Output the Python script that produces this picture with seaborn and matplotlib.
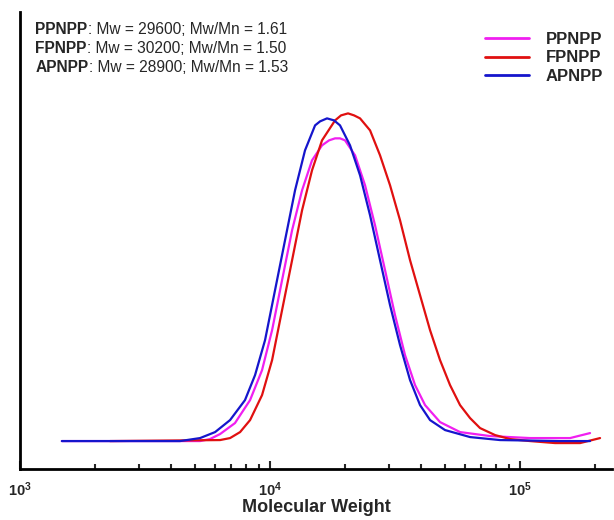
import numpy as np
import pandas as pd
import matplotlib
matplotlib.use("Agg")
import matplotlib.pyplot as plt
import seaborn as sns

# values (molecular weight, detector signal in arbitrary units)
pp_mw = [1470, 4365, 5250, 5750, 6310, 7240, 8320, 9290, 10190, 11170, 12250, 13430,
         14720, 16140, 17220, 18200, 19050, 19950, 21880, 23990, 26300, 28840, 31620,
         34670, 38020, 41690, 47860, 57540, 75860, 109600, 158500, 190500]
pp_sig = [0, 0, 0, 2, 7, 18, 41, 71, 111, 161, 211, 251,
          281, 296, 301, 303, 303, 301, 286, 256, 216, 171, 126,
          86, 56, 36, 19, 9, 5, 3, 3, 8]

fp_mw = [2290, 6310, 6920, 7590, 8320, 9290, 10190, 11170, 12250, 13430, 14720, 16140,
         18200, 19230, 20510, 21680, 22910, 25120, 27540, 30200, 33110, 36310, 39810,
         43650, 47860, 52480, 57540, 63100, 69180, 79430, 91200, 109600, 138000, 173800,
         208900]
fp_sig = [0, 1, 3, 9, 21, 46, 81, 131, 181, 231, 271, 301,
          321, 326, 328, 326, 323, 311, 286, 256, 221, 181, 146,
          111, 81, 56, 36, 23, 13, 6, 2, 0, -2, -2,
          3]

ap_mw = [1470, 4365, 5250, 6030, 6920, 7940, 8710, 9550, 10470, 11480, 12590, 13800,
         15140, 15850, 16900, 18030, 19050, 20890, 22910, 25120, 27540, 30200, 33110,
         36310, 39810, 43650, 50120, 63100, 83180, 144500, 190500]
ap_sig = [0, 0, 3, 9, 21, 41, 66, 101, 151, 201, 251, 291,
          316, 320, 323, 321, 316, 296, 266, 226, 181, 136, 96,
          61, 36, 21, 11, 4, 1, 0, 0]

names = ["PPNPP", "FPNPP", "APNPP"]
mw_text = ["Mw = 29600; Mw/Mn = 1.61", "Mw = 30200; Mw/Mn = 1.50", "Mw = 28900; Mw/Mn = 1.53"]
colors = ["#f01ff0", "#e01010", "#1515cc"]

df = pd.concat([
    pd.DataFrame({"mw": pp_mw, "sig": pp_sig, "sample": "PPNPP"}),
    pd.DataFrame({"mw": fp_mw, "sig": fp_sig, "sample": "FPNPP"}),
    pd.DataFrame({"mw": ap_mw, "sig": ap_sig, "sample": "APNPP"}),
])

sns.set_style("white")
plt.rcParams["font.family"] = ["Liberation Sans", "DejaVu Sans"]
plt.rcParams["mathtext.fontset"] = "custom"
plt.rcParams["mathtext.bf"] = "Liberation Sans:bold"
plt.rcParams["mathtext.default"] = "bf"

fig = plt.figure(figsize=(6.14, 5.2), dpi=100)
ax = fig.add_axes([0.0326, 0.098, 0.964, 0.878])

sns.lineplot(data=df, x="mw", y="sig", hue="sample", hue_order=names,
             palette=dict(zip(names, colors)), estimator=None, sort=False,
             linewidth=1.6, ax=ax)

ax.set_xscale("log")
ax.set_xlim(1000, 233000)
ax.set_ylim(-28, 429)
ax.set_yticks([])
ax.set_ylabel("")
ax.set_xlabel("Molecular Weight", fontsize=13, fontweight="bold", labelpad=0)

for s in ["top", "right"]:
    ax.spines[s].set_visible(False)
for s in ["left", "bottom"]:
    ax.spines[s].set_linewidth(2)
    ax.spines[s].set_color("black")

ax.tick_params(axis="x", which="major", direction="in", length=6, width=1.5,
               labelsize=10.5, pad=8, bottom=True)
ax.tick_params(axis="x", which="minor", direction="in", length=3.5, width=1.5, bottom=True)
ax.set_xticks([1e3, 1e4, 1e5])
ax.set_xticklabels(["$10^{3}$", "$10^{4}$", "$10^{5}$"])

leg = ax.legend(loc="upper right", bbox_to_anchor=(1.01, 0.99), frameon=False,
                handlelength=2.65, handletextpad=1.0, labelspacing=0.2,
                prop={"weight": "bold", "size": 12})
for line in leg.get_lines():
    line.set_linewidth(2)

# Mw annotations: bold sample name, then regular text
y0 = 0.963
for i, (n, t) in enumerate(zip(names, mw_text)):
    t1 = ax.text(0.026, y0 - i * 0.0416, n, transform=ax.transAxes,
                 fontsize=11.2, fontweight="bold", va="center")
    ax.annotate(": " + t, xy=(1, 0.5), xycoords=t1, va="center", fontsize=11.2)

fig.savefig("out.png", dpi=100, facecolor="white")
